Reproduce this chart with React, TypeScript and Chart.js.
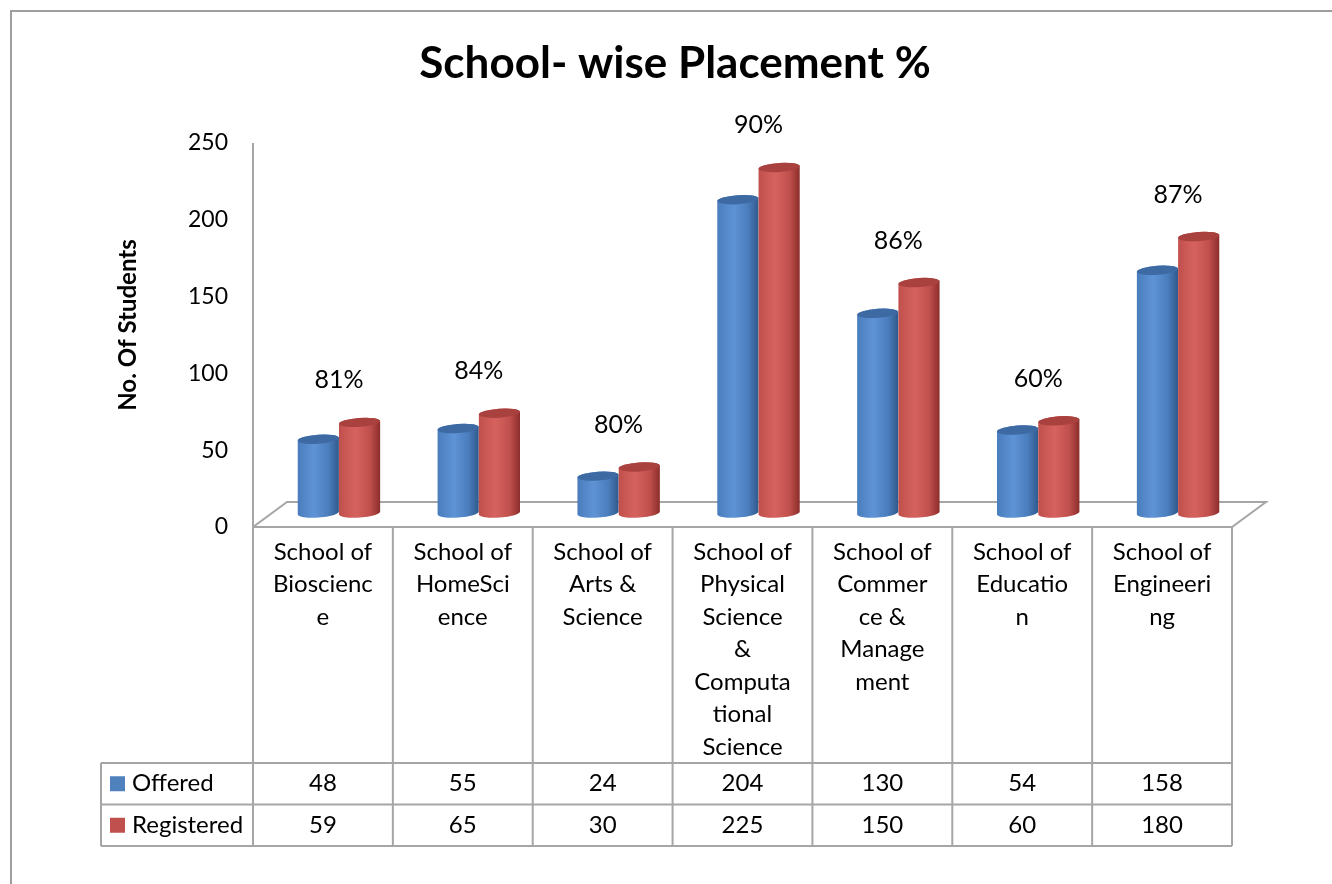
import React, { useEffect, useRef } from "react";
import { Chart, registerables } from "chart.js";

Chart.register(...registerables);

// ---------- data ----------
const categories: string[][] = [
  ["School of", "Bioscienc", "e"],
  ["School of", "HomeSci", "ence"],
  ["School of", "Arts &", "Science"],
  ["School of", "Physical", "Science", "&", "Computa", "tional", "Science"],
  ["School of", "Commer", "ce &", "Manage", "ment"],
  ["School of", "Educatio", "n"],
  ["School of", "Engineeri", "ng"],
];
const offered = [48, 55, 24, 204, 130, 54, 158];
const registered = [59, 65, 30, 225, 150, 60, 180];
const placementPct = [81, 84, 80, 90, 86, 60, 87];
const seriesNames = ["Offered", "Registered"];
const yTickValues = [0, 50, 100, 150, 200, 250];
const titleText = "School- wise Placement %";
const yAxisTitle = "No. Of Students";

// ---------- styles ----------
const FONT = "Lato, 'Open Sans', 'DejaVu Sans', sans-serif";
const LINE = "#A6A6A6";
const W = 1332;
const H = 884;
const SERIES_STYLE = [
  { base: "#4F81BD", light: "#5E93D6", mid: "#4A7DBC", dark: "#30598C", cap: "#3D6AA3" },
  { base: "#C0504D", light: "#D6625F", mid: "#C0504D", dark: "#8C2D2B", cap: "#A9413F" },
];
const BAR_DX = 16;
const BAR_DY = -14;
const FLOOR_DX = 34;
const FLOOR_DY = -25;
const ELL_RY = 4.5;
const ELL_ROT = -0.07;

function drawCylinder(
  ctx: CanvasRenderingContext2D,
  cx: number,
  top: number,
  base: number,
  w: number,
  s: (typeof SERIES_STYLE)[number]
) {
  const rx = w / 2;
  const grad = ctx.createLinearGradient(cx - rx, 0, cx + rx, 0);
  grad.addColorStop(0, s.mid);
  grad.addColorStop(0.4, s.light);
  grad.addColorStop(0.75, s.mid);
  grad.addColorStop(1, s.dark);
  ctx.beginPath();
  ctx.ellipse(cx, top, rx, ELL_RY, ELL_ROT, Math.PI, Math.PI * 2, false);
  ctx.ellipse(cx, base, rx, ELL_RY, ELL_ROT, 0, Math.PI, false);
  ctx.closePath();
  ctx.fillStyle = grad;
  ctx.fill();
  ctx.beginPath();
  ctx.ellipse(cx, top, rx, ELL_RY, ELL_ROT, 0, Math.PI * 2);
  ctx.fillStyle = s.cap;
  ctx.fill();
}

const decorPlugin = {
  id: "decor",
  beforeDraw(chart: any) {
    const ctx: CanvasRenderingContext2D = chart.ctx;
    const { left, right, top, bottom } = chart.chartArea;
    ctx.save();
    ctx.fillStyle = "#ffffff";
    ctx.fillRect(0, 0, W, H);
    // outer frame
    ctx.strokeStyle = "#9E9E9E";
    ctx.lineWidth = 2;
    ctx.beginPath();
    ctx.moveTo(11, H);
    ctx.lineTo(11, 11);
    ctx.lineTo(W, 11);
    ctx.stroke();
    // title
    ctx.fillStyle = "#000";
    ctx.font = `bold 44px ${FONT}`;
    ctx.textAlign = "center";
    ctx.textBaseline = "middle";
    ctx.fillText(titleText, 675, 64);
    // y-axis title
    ctx.save();
    ctx.translate(128, (top + bottom) / 2 - 10);
    ctx.rotate(-Math.PI / 2);
    ctx.font = `bold 24px ${FONT}`;
    ctx.fillText(yAxisTitle, 0, 0);
    ctx.restore();
    // floor + axis wall
    ctx.strokeStyle = LINE;
    ctx.lineWidth = 2;
    ctx.beginPath();
    ctx.moveTo(left, top);
    ctx.lineTo(left, bottom);
    ctx.lineTo(left + FLOOR_DX, bottom + FLOOR_DY);
    ctx.lineTo(right + FLOOR_DX, bottom + FLOOR_DY);
    ctx.lineTo(right, bottom);
    ctx.lineTo(left, bottom);
    ctx.stroke();
    ctx.restore();
  },
  afterDatasetsDraw(chart: any) {
    const ctx: CanvasRenderingContext2D = chart.ctx;
    const metas = [chart.getDatasetMeta(0), chart.getDatasetMeta(1)];
    ctx.save();
    for (let i = 0; i < categories.length; i++) {
      metas.forEach((meta: any, d: number) => {
        const el = meta.data[i];
        const p = el.getProps(["x", "y", "base", "width"], true);
        drawCylinder(ctx, p.x + BAR_DX, p.y + BAR_DY, p.base + BAR_DY, p.width, SERIES_STYLE[d]);
      });
      // percent label above the pair
      const red = metas[1].data[i].getProps(["y"], true);
      const cx = chart.scales.x.getPixelForValue(i) + BAR_DX;
      ctx.fillStyle = "#000";
      ctx.font = `25px ${FONT}`;
      ctx.textAlign = "center";
      ctx.textBaseline = "middle";
      ctx.fillText(`${placementPct[i]}%`, cx, red.y + BAR_DY - 42);
    }
    ctx.restore();
  },
  afterDraw(chart: any) {
    const ctx: CanvasRenderingContext2D = chart.ctx;
    const { left, right, bottom } = chart.chartArea;
    const n = categories.length;
    const colW = (right - left) / n;
    const labelBottom = bottom + 236;
    const rowH = 41.5;
    const tableLeft = 101;
    const tableBottom = labelBottom + rowH * 2;
    ctx.save();
    ctx.strokeStyle = LINE;
    ctx.lineWidth = 2;
    ctx.beginPath();
    for (let i = 0; i <= n; i++) {
      const x = left + i * colW;
      ctx.moveTo(x, bottom);
      ctx.lineTo(x, tableBottom);
    }
    ctx.moveTo(tableLeft, labelBottom);
    ctx.lineTo(tableLeft, tableBottom);
    for (let r = 0; r <= 2; r++) {
      const y = labelBottom + r * rowH;
      ctx.moveTo(tableLeft, y);
      ctx.lineTo(right, y);
    }
    ctx.stroke();

    // category labels
    ctx.fillStyle = "#000";
    ctx.font = `24px ${FONT}`;
    ctx.textAlign = "center";
    ctx.textBaseline = "middle";
    categories.forEach((lines, i) => {
      const x = chart.scales.x.getPixelForValue(i);
      lines.forEach((t, j) => ctx.fillText(t, x, bottom + 25 + j * 32.5));
    });

    // data rows
    const rows = [offered, registered];
    rows.forEach((vals, r) => {
      const cy = labelBottom + rowH * r + rowH / 2;
      ctx.fillStyle = SERIES_STYLE[r].base;
      ctx.fillRect(110, cy - 7.5, 15, 15);
      ctx.fillStyle = "#000";
      ctx.textAlign = "left";
      ctx.fillText(seriesNames[r], 132, cy);
      ctx.textAlign = "center";
      vals.forEach((v, i) => {
        ctx.fillText(String(v), chart.scales.x.getPixelForValue(i), cy);
      });
    });
    ctx.restore();
  },
};

export default function App() {
  const ref = useRef<HTMLCanvasElement | null>(null);
  useEffect(() => {
    if (!ref.current) return;
    const chart = new Chart(ref.current, {
      type: "bar",
      data: {
        labels: categories.map((c) => c.join(" ")),
        datasets: [
          {
            label: seriesNames[0],
            data: offered,
            backgroundColor: "rgba(0,0,0,0)",
            borderWidth: 0,
          },
          {
            label: seriesNames[1],
            data: registered,
            backgroundColor: "rgba(0,0,0,0)",
            borderWidth: 0,
          },
        ],
      },
      options: {
        responsive: false,
        animation: false,
        devicePixelRatio: 1,
        events: [],
        layout: { padding: { left: 173, right: 100, top: 143, bottom: 357 } },
        datasets: { bar: { barPercentage: 1, categoryPercentage: 0.59 } },
        plugins: {
          legend: { display: false },
          title: { display: false },
          tooltip: { enabled: false },
        },
        scales: {
          x: { display: false },
          y: {
            min: 0,
            max: 250,
            afterBuildTicks: (s: any) => {
              s.ticks = yTickValues.map((v) => ({ value: v }));
            },
            afterFit: (s: any) => {
              s.width = 80;
            },
            ticks: {
              font: { family: FONT, size: 23 },
              color: "#000",
              padding: 25,
            },
            grid: { display: false, drawTicks: false },
            border: { display: false },
          },
        },
      },
      plugins: [decorPlugin],
    });
    return () => chart.destroy();
  }, []);
  return (
    <div style={{ position: "absolute", left: 0, top: 0, width: W, height: H, background: "#fff" }}>
      <canvas ref={ref} width={W} height={H} style={{ display: "block" }} />
    </div>
  );
}
